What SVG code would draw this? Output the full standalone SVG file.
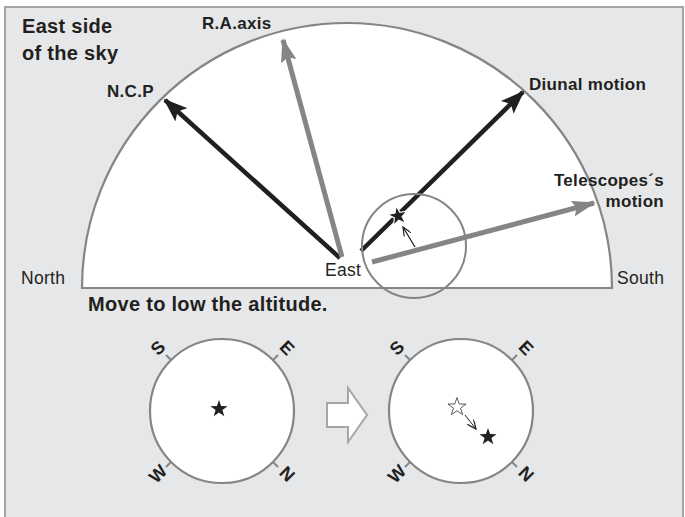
<svg xmlns="http://www.w3.org/2000/svg" width="685" height="517" viewBox="0 0 685 517">
<defs>
<style>
.lbl{font-family:"Liberation Sans",Arial,sans-serif;font-weight:bold;fill:#231f20;font-size:17px;letter-spacing:0.3px}
.big{font-family:"Liberation Sans",Arial,sans-serif;font-weight:bold;fill:#231f20;font-size:20px;letter-spacing:0.3px}
.reg{font-family:"Liberation Sans",Arial,sans-serif;fill:#231f20;font-size:17.5px;letter-spacing:0.3px}
.ring{fill:#fff;stroke:#858585;stroke-width:2.2}
.tick{stroke:#858585;stroke-width:2}
.dir{font-family:"Liberation Sans",Arial,sans-serif;font-weight:bold;font-size:18px;fill:#231f20;text-anchor:middle}
</style>
<marker id="hb" viewBox="0 0 24 18" refX="22" refY="9" markerWidth="24" markerHeight="18" markerUnits="userSpaceOnUse" orient="auto">
<path d="M0,0 L24,9 L0,18 L5,9 Z" fill="#231f20"/>
</marker>
<marker id="hg" viewBox="0 0 24 16" refX="22" refY="8" markerWidth="24" markerHeight="16" markerUnits="userSpaceOnUse" orient="auto">
<path d="M0,0 L24,8 L0,16 L4,8 Z" fill="#858585"/>
</marker>
<marker id="hs" viewBox="0 0 10 8" refX="9" refY="4" markerWidth="10" markerHeight="8" markerUnits="userSpaceOnUse" orient="auto">
<path d="M0,0 L9,4 L0,8" fill="none" stroke="#231f20" stroke-width="1.2"/>
</marker>
<path id="star" d="M0,-9 L2.1,-2.9 L8.6,-2.8 L3.4,1.1 L5.3,7.3 L0,3.6 L-5.3,7.3 L-3.4,1.1 L-8.6,-2.8 L-2.1,-2.9 Z"/>
</defs>
<rect x="0" y="0" width="685" height="517" fill="#fff"/>
<rect x="5" y="7" width="678" height="520" fill="#e6e7e9" stroke="#a6a6a6" stroke-width="2"/>

<g id="sky">
<path d="M82,288 A265,265 0 0 1 612,288 Z" fill="#fff" stroke="#858585" stroke-width="2.2"/>
</g>

<g id="view-before">
<circle class="ring" cx="222" cy="411" r="72"/>
<line class="tick" x1="171" y1="360" x2="166" y2="355"/>
<line class="tick" x1="273" y1="360" x2="278" y2="355"/>
<line class="tick" x1="171" y1="462" x2="166" y2="467"/>
<line class="tick" x1="273" y1="462" x2="278" y2="467"/>
<text class="dir" transform="translate(158,348) rotate(-45)" y="6">S</text>
<text class="dir" transform="translate(287,348) rotate(45)" y="6">E</text>
<text class="dir" transform="translate(158,474) rotate(-45)" y="6">W</text>
<text class="dir" transform="translate(287,474) rotate(45)" y="6">N</text>
<use href="#star" transform="translate(219,409)" fill="#231f20"/>
</g>

<g id="next-arrow">
<path d="M327,403 L348,403 L348,388 L367,415 L348,442 L348,427 L327,427 Z" fill="#fff" stroke="#a6a6a6" stroke-width="2"/>
</g>

<g id="view-after">
<circle class="ring" cx="461" cy="411" r="72"/>
<line class="tick" x1="410" y1="360" x2="405" y2="355"/>
<line class="tick" x1="512" y1="360" x2="517" y2="355"/>
<line class="tick" x1="410" y1="462" x2="405" y2="467"/>
<line class="tick" x1="512" y1="462" x2="517" y2="467"/>
<text class="dir" transform="translate(397,348) rotate(-45)" y="6">S</text>
<text class="dir" transform="translate(526,348) rotate(45)" y="6">E</text>
<text class="dir" transform="translate(397,474) rotate(-45)" y="6">W</text>
<text class="dir" transform="translate(526,474) rotate(45)" y="6">N</text>
<use href="#star" transform="translate(457,407) scale(1.05)" fill="#fff" stroke="#231f20" stroke-width="0.7"/>
<use href="#star" transform="translate(488,437)" fill="#231f20"/>
</g>

<g id="connectors">
<line x1="340" y1="258" x2="165" y2="100" stroke="#231f20" stroke-width="4.5" marker-end="url(#hb)"/>
<line x1="342" y1="257" x2="283" y2="40" stroke="#858585" stroke-width="5" marker-end="url(#hg)"/>
<line x1="361" y1="251" x2="523" y2="92" stroke="#231f20" stroke-width="4.5" marker-end="url(#hb)"/>
<line x1="372" y1="262" x2="594" y2="203" stroke="#858585" stroke-width="5" marker-end="url(#hg)"/>
<line x1="415" y1="247" x2="403" y2="227" stroke="#231f20" stroke-width="1.3" marker-end="url(#hs)"/>
<line x1="465" y1="415" x2="476" y2="429" stroke="#231f20" stroke-width="1" marker-end="url(#hs)"/>
</g>

<g id="zoom-circle">
<circle cx="414" cy="246" r="52" fill="none" stroke="#858585" stroke-width="2"/>
<use href="#star" transform="translate(398,216) rotate(-10) scale(1.15)" fill="#231f20" stroke="#fff" stroke-width="1"/>
</g>

<g id="labels">
<text class="big" x="22" y="33">East side</text>
<text class="big" x="22" y="60">of the sky</text>
<text class="lbl" x="202" y="29">R.A.axis</text>
<text class="lbl" x="107" y="97">N.C.P</text>
<text class="lbl" x="529" y="90">Diunal motion</text>
<text class="lbl" x="664" y="186" text-anchor="end">Telescopes´s</text>
<text class="lbl" x="664" y="207" text-anchor="end">motion</text>
<text class="reg" x="325" y="276">East</text>
<text class="reg" x="21" y="284">North</text>
<text class="reg" x="617" y="284">South</text>
<text class="big" x="88" y="311">Move to low the altitude.</text>
</g>
</svg>
